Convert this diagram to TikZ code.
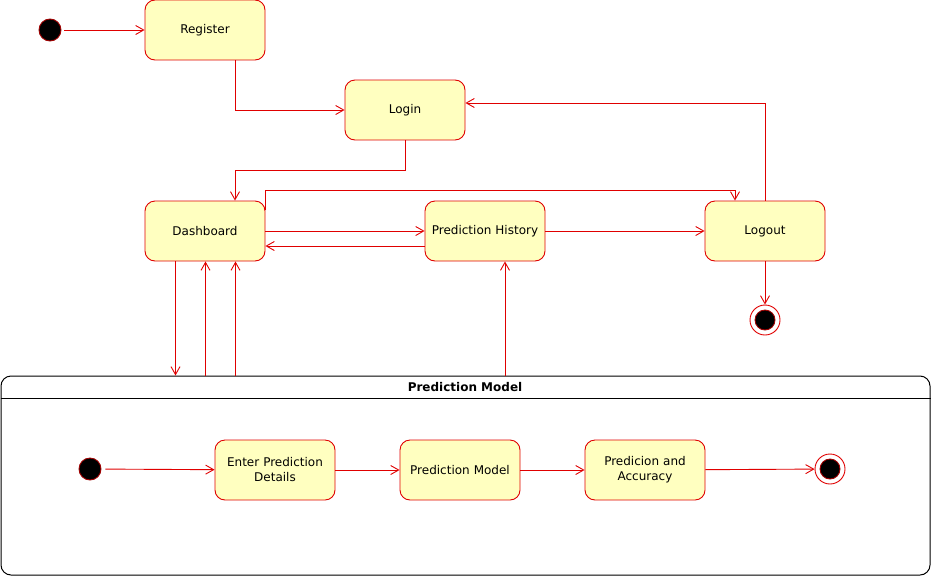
\documentclass[tikz,border=0pt]{standalone}
\usepackage{fontspec}
\setmainfont{DejaVu Sans}
\usetikzlibrary{arrows.meta}
\definecolor{stateFill}{HTML}{FFFFC0}
\definecolor{stateLine}{HTML}{E00000}
\definecolor{flowLine}{HTML}{E00000}
\definecolor{dotLine}{HTML}{A00000}
\begin{document}
\begin{tikzpicture}[x=1pt,y=-1pt,
  stateBox/.style={draw=stateLine, fill=stateFill, rounded corners=10pt,
    minimum width=120pt, minimum height=60pt, inner sep=0pt, text width=112pt,
    align=center, line width=0.9pt, font=\fontsize{12}{15}\selectfont},
  startDot/.style={circle, draw=dotLine, fill=black, minimum size=22pt, inner sep=0pt, line width=0.9pt},
  endDot/.style={circle, draw=stateLine, fill=white, minimum size=30pt, inner sep=0pt, line width=0.9pt,
    path picture={\filldraw[fill=black, draw=dotLine, line width=0.9pt]
      (path picture bounding box.center) circle (10pt);}},
  flow/.style={draw=flowLine, line width=0.9pt, -{Straight Barb[length=8pt,width=9pt,line width=0.9pt]}},
  frame/.style={draw=black, fill=white, rounded corners=10pt, minimum width=929pt,
    minimum height=199pt, inner sep=0pt, line width=1pt}]
\useasboundingbox (0,0) rectangle (931,576);

% composite state frame
\node[frame] (pm) at (465.5,475.5) {};
\draw[line width=1pt] (pm.west |- 0,398) -- (pm.east |- 0,398);
\node[font=\fontsize{12}{14}\selectfont\bfseries] (pmtitle) at (465,387) {Prediction Model};

% top-level states
\node[startDot] (init) at (50,30) {};
\node[stateBox] (reg) at (205,30) {Register};
\node[stateBox] (login) at (405,110) {Login};
\node[stateBox] (dash) at (205,231) {Dashboard};
\node[stateBox] (hist) at (485,231) {Prediction History};
\node[stateBox] (logout) at (765,231) {Logout};
\node[endDot] (fin) at (765,320) {};

% inner states
\node[startDot] (init2) at (90,469) {};
\node[stateBox] (enter) at (275,470) {Enter Prediction\\Details};
\node[stateBox] (model) at (460,470) {Prediction Model};
\node[stateBox] (acc) at (645,470) {Predicion and\\Accuracy};
\node[endDot] (fin2) at (830,469) {};

\coordinate (over) at (735,190);

% transitions
\draw[flow, shorten <=3pt] (init) -- (reg);
\draw[flow] ([xshift=30pt]reg.south) |- (login.west);
\draw[flow] (login.south) -- ++(0,30) -| ([xshift=30pt]dash.north);
\draw[flow] ([yshift=-9pt]dash.north east) |- (over) -- ([xshift=-30pt]logout.north);
\draw[flow] (dash.east) -- (hist.west);
\draw[flow] ([yshift=-15pt]hist.west) -- ([yshift=-15pt]dash.east);
\draw[flow] (hist.east) -- (logout.west);
\draw[flow] (logout.north) |- ([yshift=7pt]login.east);
\draw[flow] (logout.south) -- (fin.north);

\draw[flow] ([xshift=-29.5pt]dash.south) -- ([xshift=-29.5pt]dash.south |- pm.north);
\draw[flow] ([xshift=0.5pt]dash.south |- pm.north) -- ([xshift=0.5pt]dash.south);
\draw[flow] ([xshift=30.5pt]dash.south |- pm.north) -- ([xshift=30.5pt]dash.south);
\draw[flow] ([xshift=20pt]hist.south |- pm.north) -- ([xshift=20pt]hist.south);

\draw[flow, shorten <=4pt] (init2) -- (enter);
\draw[flow] (enter) -- (model);
\draw[flow] (model) -- (acc);
\draw[flow] (acc) -- (fin2);
\end{tikzpicture}
\end{document}
